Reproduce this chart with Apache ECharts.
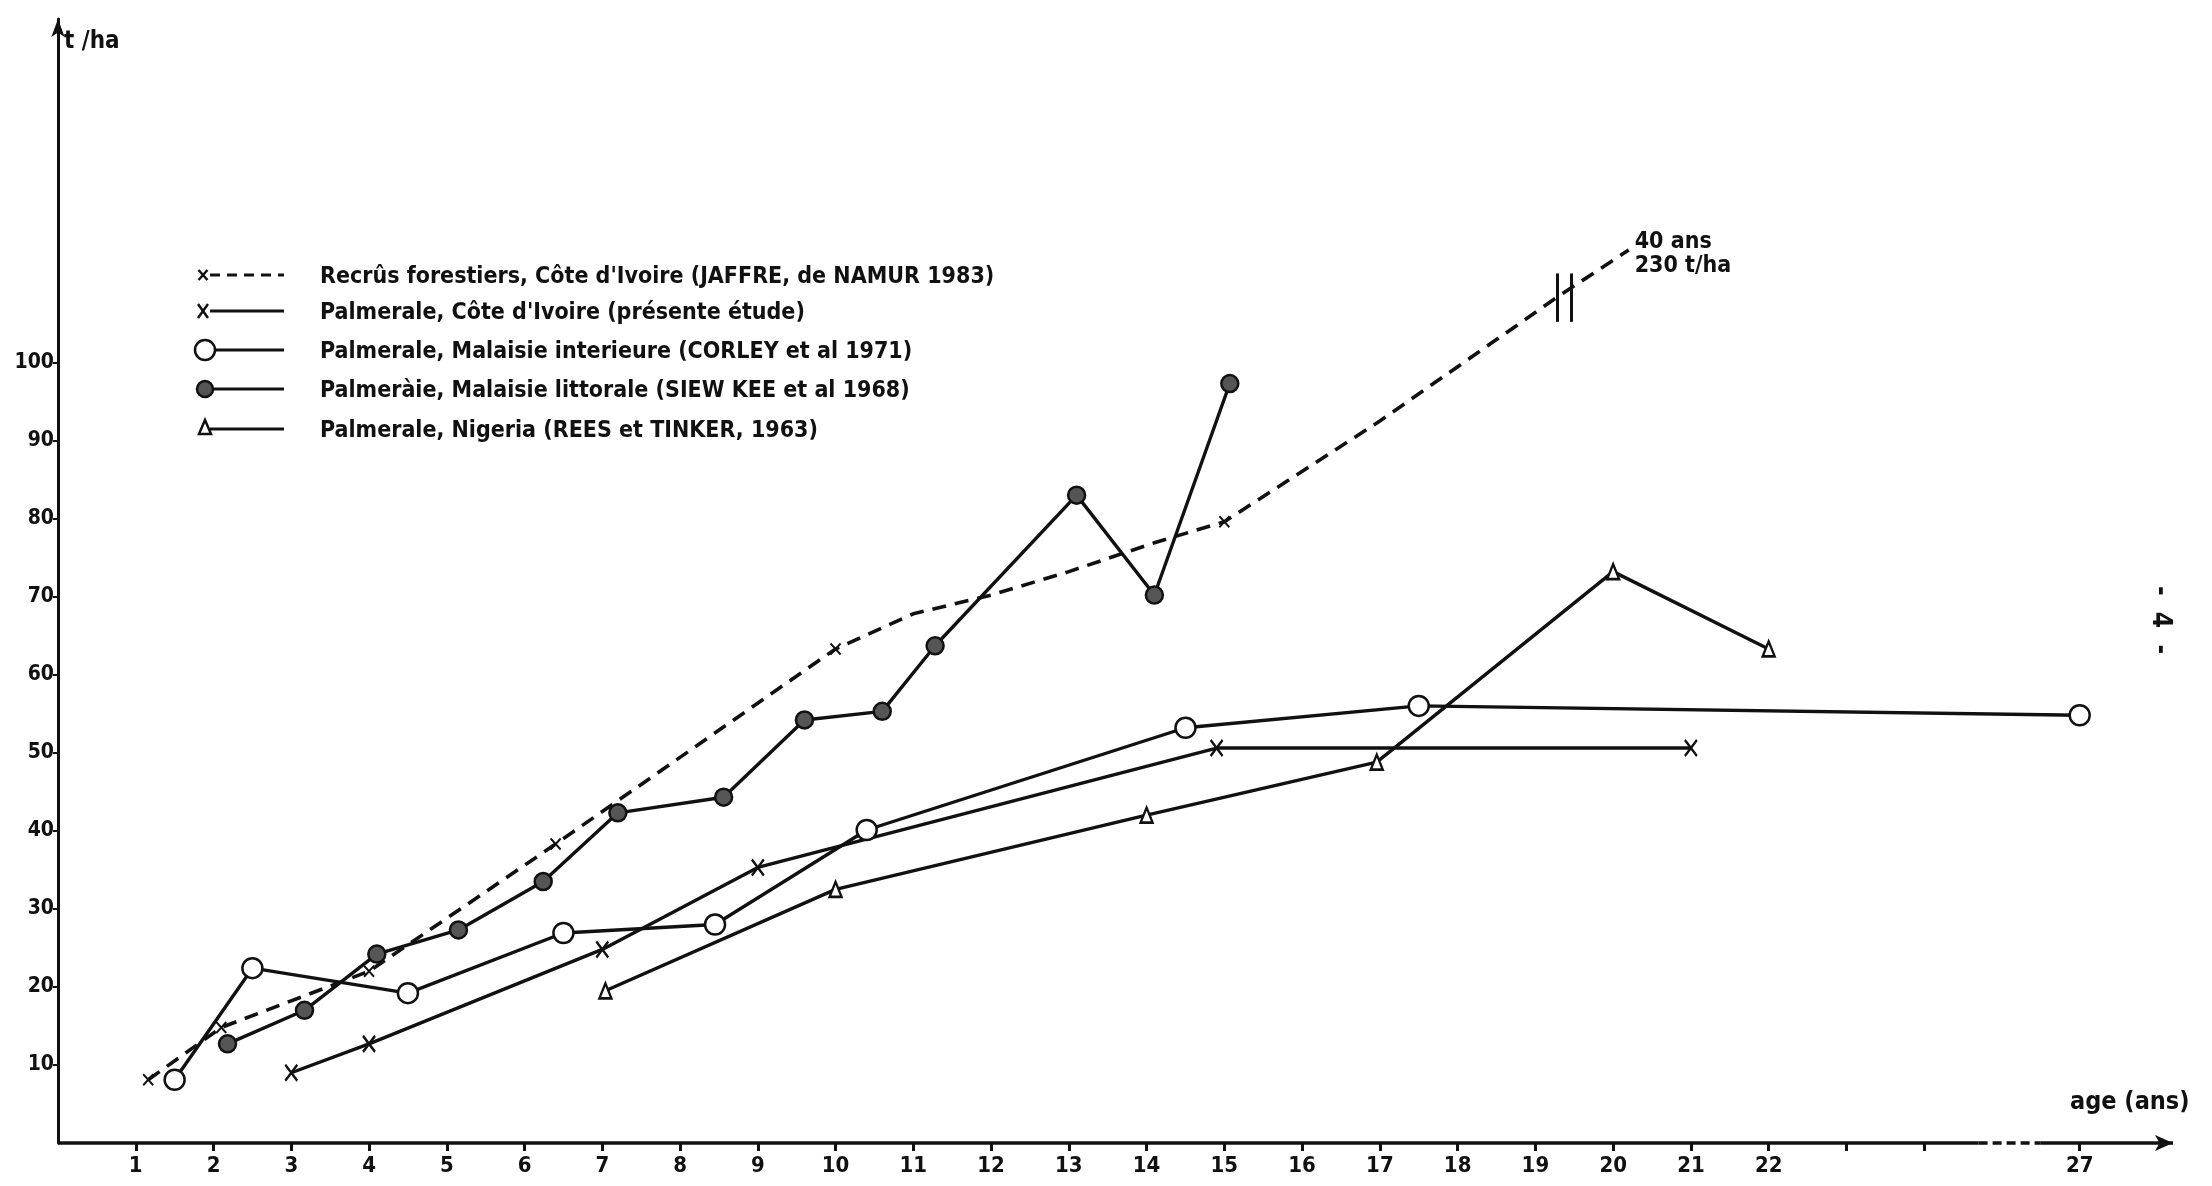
<!DOCTYPE html>
<html>
<head>
<meta charset="utf-8">
<script src="https://cdn.jsdelivr.net/npm/echarts@6/dist/echarts.min.js"></script>
<style>
  html, body { margin: 0; padding: 0; background: #fff; }
  #chart { width: 2212px; height: 1186px; }
</style>
</head>
<body>
<div id="chart"></div>
<script>
// ages (ans) and biomass (t/ha)
const recrusAges   = [1.16, 2.1, 4.0, 6.4, 10.0, 11.0, 12.0, 13.0, 14.1, 15.0, 17.0, 19.3, 20.2];
const recrusVals   = [8.1, 14.8, 22, 38.3, 63.3, 67.8, 70.2, 73.2, 76.9, 79.6, 92.5, 108.5, 114.4];
const recrusMarked = [1, 1, 1, 1, 1, 0, 0, 0, 0, 1, 0, 0, 0];

const ciAges = [3.0, 4.0, 7.0, 9.0, 14.9, 21.0];
const ciVals = [9, 12.7, 24.8, 35.3, 50.6, 50.6];

const malIntAges = [1.5, 2.5, 4.5, 6.5, 8.45, 10.4, 14.5, 17.5, 27];
const malIntVals = [8.1, 22.4, 19.2, 26.9, 28, 40.1, 53.2, 56, 54.8];

const malLitAges = [2.18, 3.17, 4.1, 5.15, 6.24, 7.2, 8.56, 9.6, 10.6, 11.28, 13.1, 14.1, 15.07];
const malLitVals = [12.7, 17, 24.2, 27.3, 33.5, 42.3, 44.3, 54.2, 55.3, 63.7, 83, 70.2, 97.3];

const nigAges = [7.04, 10.0, 14.0, 16.96, 20.0, 22.0];
const nigVals = [19.5, 32.5, 42, 48.8, 73.2, 63.3];

const xTickLabels = [1,2,3,4,5,6,7,8,9,10,11,12,13,14,15,16,17,18,19,20,21,22,27];
const xTickOnly = [23, 24];
const yTickLabels = [10,20,30,40,50,60,70,80,90,100];

const legendNames = [
  "Recrûs forestiers, Côte d'Ivoire (JAFFRE, de NAMUR 1983)",
  "Palmerale, Côte d'Ivoire (présente étude)",
  "Palmerale, Malaisie interieure (CORLEY et al 1971)",
  "Palmeràie, Malaisie littorale (SIEW KEE et al 1968)",
  "Palmerale, Nigeria (REES et TINKER, 1963)"
];

// the axis is broken after 24: 27 sits two units further on
function pos(age) { return age <= 24 ? age : 24 + (age - 24) * 2 / 3; }
function axisToAge(p) { return p <= 24 ? p : 24 + (p - 24) * 3 / 2; }

const FONT = "'Liberation Sans Narrow', 'DejaVu Sans Condensed', 'Liberation Sans', sans-serif";
const INK = '#111';
const xMark = 'path://M0,0L10,12M10,0L0,12';

function pts(ages, vals) { return ages.map((a, i) => [pos(a), vals[i]]); }

const myChart = echarts.init(document.getElementById('chart'));

const baseLine = { color: INK, width: 3.4 };

const option = {
  backgroundColor: '#fff',
  animation: false,
  grid: { left: 58, right: 39, top: 19, bottom: 43 },
  xAxis: {
    type: 'value',
    min: 0,
    max: 27.2,
    interval: 1,
    splitLine: { show: false },
    axisLine: { show: false },
    axisTick: {
      show: true, length: 8, inside: false,
      customValues: xTickLabels.concat(xTickOnly).map(pos),
      lineStyle: { color: INK, width: 3 }
    },
    axisLabel: {
      customValues: xTickLabels.map(pos),
      formatter: (v) => String(Math.round(axisToAge(v))),
      color: INK, fontFamily: FONT, fontWeight: 'bold', fontSize: 22, margin: 12
    }
  },
  yAxis: {
    type: 'value',
    min: 0,
    max: 144,
    interval: 10,
    splitLine: { show: false },
    axisLine: {
      show: true, symbol: ['none', 'arrow'], symbolSize: [10, 18],
      lineStyle: { color: INK, width: 3 }
    },
    axisTick: {
      show: true, length: 5, customValues: yTickLabels,
      lineStyle: { color: INK, width: 2 }
    },
    axisLabel: {
      customValues: yTickLabels,
      color: INK, fontFamily: FONT, fontWeight: 'bold', fontSize: 21, margin: 4
    }
  },
  graphic: [
    { type: 'text', x: 64, y: 30,
      style: { text: 't /ha', font: 'bold 24px ' + FONT, fill: INK } },
    { type: 'text', x: 2070, y: 1090,
      style: { text: 'age (ans)', font: 'bold 25px ' + FONT, fill: INK } },
    { type: 'text', x: 2160, y: 620, rotation: -Math.PI / 2,
      style: { text: '-  4  -', font: 'bold 26px ' + FONT, fill: INK, align: 'center', verticalAlign: 'middle' } }
  ],
  series: [
    {
      name: 'axes',
      type: 'line',
      data: [],
      silent: true,
      clip: false,
      markLine: {
        silent: true,
        symbol: ['none', 'none'],
        label: { show: false },
        data: [
          [{ coord: [0, 0], lineStyle: { color: INK, width: 3.5, type: 'solid' } }, { coord: [24.7, 0] }],
          [{ coord: [24.7, 0], lineStyle: { color: INK, width: 3.5, type: [9, 5] } }, { coord: [25.5, 0] }],
          [{ coord: [25.5, 0], symbol: 'none', lineStyle: { color: INK, width: 3.5, type: 'solid' } },
           { coord: [27.2, 0], symbol: 'arrow', symbolSize: [12, 18] }],
          // break mark on the forest-regrowth curve
          [{ coord: [19.28, 105.2], lineStyle: { color: INK, width: 3, type: 'solid' } }, { coord: [19.28, 111.4] }],
          [{ coord: [19.46, 105.2], lineStyle: { color: INK, width: 3, type: 'solid' } }, { coord: [19.46, 111.4] }]
        ]
      }
    },
    {
      name: legendNames[0],
      type: 'line',
      data: recrusAges.map((a, i) => {
        const item = { value: [pos(a), recrusVals[i]] };
        if (!recrusMarked[i]) item.symbol = 'none';
        return item;
      }),
      symbol: xMark,
      symbolSize: [10, 11],
      itemStyle: { color: INK, borderColor: INK, borderWidth: 2 },
      lineStyle: { color: INK, width: 3.6, type: [14, 9] },
      endLabel: {
        show: true, distance: 6, offset: [0, 4],
        formatter: '40 ans\n230 t/ha',
        fontFamily: FONT, fontWeight: 'bold', fontSize: 23, lineHeight: 24, color: INK
      },
      z: 3
    },
    {
      name: legendNames[1],
      type: 'line',
      data: pts(ciAges, ciVals),
      symbol: xMark,
      symbolSize: [12, 16],
      itemStyle: { color: INK, borderColor: INK, borderWidth: 2.5 },
      lineStyle: baseLine,
      z: 3
    },
    {
      name: legendNames[2],
      type: 'line',
      data: pts(malIntAges, malIntVals),
      symbol: 'circle',
      symbolSize: 20,
      itemStyle: { color: '#fff', borderColor: INK, borderWidth: 2.5 },
      lineStyle: baseLine,
      z: 4
    },
    {
      name: legendNames[3],
      type: 'line',
      data: pts(malLitAges, malLitVals),
      symbol: 'circle',
      symbolSize: 17,
      itemStyle: { color: '#555', borderColor: INK, borderWidth: 2.5 },
      lineStyle: baseLine,
      z: 4
    },
    {
      name: legendNames[4],
      type: 'line',
      data: pts(nigAges, nigVals),
      symbol: 'triangle',
      symbolSize: [12, 15],
      itemStyle: { color: '#fff', borderColor: INK, borderWidth: 2.5 },
      lineStyle: baseLine,
      z: 4
    }
  ]
};

// hand-drawn legend: marker at the left end of a short line, then the text
const legendRows = [275, 311, 350, 389, 429];
const legendSymbols = ['x', 'X', 'open', 'filled', 'triangle'];
legendRows.forEach((y, i) => {
  const s = legendSymbols[i];
  option.graphic.push({
    type: 'line',
    shape: { x1: 210, y1: y, x2: 284, y2: y },
    style: { stroke: INK, lineWidth: 3, lineDash: i === 0 ? [10, 7] : null }
  });
  if (s === 'x' || s === 'X') {
    const h = s === 'x' ? 5 : 7, w = s === 'x' ? 4.5 : 5;
    option.graphic.push(
      { type: 'line', shape: { x1: 203 - w, y1: y - h, x2: 203 + w, y2: y + h }, style: { stroke: INK, lineWidth: 2.5 } },
      { type: 'line', shape: { x1: 203 + w, y1: y - h, x2: 203 - w, y2: y + h }, style: { stroke: INK, lineWidth: 2.5 } }
    );
  } else if (s === 'open' || s === 'filled') {
    option.graphic.push({
      type: 'circle', shape: { cx: 205, cy: y, r: s === 'open' ? 10 : 8 },
      style: { fill: s === 'open' ? '#fff' : '#555', stroke: INK, lineWidth: 2.5 }
    });
  } else {
    option.graphic.push({
      type: 'polygon', shape: { points: [[205, y - 9], [199, y + 5], [211, y + 5]] },
      style: { fill: '#fff', stroke: INK, lineWidth: 2.5 }
    });
  }
  option.graphic.push({
    type: 'text', x: 320, y: y - 9,
    style: { text: legendNames[i], font: 'bold 23px ' + FONT, fill: INK }
  });
});

myChart.setOption(option);
</script>
</body>
</html>
